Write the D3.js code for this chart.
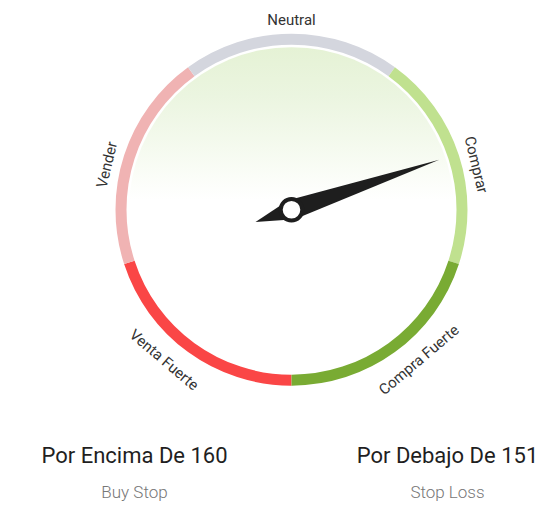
<!DOCTYPE html>
<html>
<head>
<meta charset="utf-8">
<script src="https://cdn.jsdelivr.net/npm/d3@7"></script>
<style>
  html, body { margin: 0; padding: 0; background: #fff; }
  svg { display: block; font-family: Roboto, "Noto Sans", sans-serif; }
</style>
</head>
<body>
<svg id="chart" width="542" height="529"></svg>
<script>
// ---- data ----
const segmentLabels = ["Venta Fuerte", "Vender", "Neutral", "Comprar", "Compra Fuerte"];
const segmentColors = ["#fa4646", "#f0b3b3", "#d4d6de", "#c0e18f", "#79ab33"];
const gaugeMin = 0;
const gaugeMax = 100;
const needleValue = 69.8;
const stopValues = ["Por Encima De 160", "Por Debajo De 151"];
const stopNames = ["Buy Stop", "Stop Loss"];

// ---- layout ----
const svg = d3.select("#chart");
const cx = 291.5, cy = 209.7;
const rOuter = 176, rInner = 165, rFill = 162.5;

// angle scale: start at 6 o'clock, clockwise full circle
const angle = d3.scaleLinear().domain([gaugeMin, gaugeMax]).range([Math.PI, 3 * Math.PI]);
const segScale = d3.scaleLinear().domain([0, segmentLabels.length]).range([gaugeMin, gaugeMax]);

const defs = svg.append("defs");
const grad = defs.append("linearGradient").attr("id", "bgGrad")
  .attr("x1", 0).attr("y1", 0).attr("x2", 0).attr("y2", 1);
[["0%", "#e5f2d5"], ["15%", "#ebf5e0"], ["28%", "#f3f9ec"], ["40%", "#fbfdf8"], ["47%", "#ffffff"], ["100%", "#ffffff"]]
  .forEach(([o, c]) => grad.append("stop").attr("offset", o).attr("stop-color", c));

const g = svg.append("g").attr("transform", `translate(${cx},${cy})`);

// inner gradient disc
g.append("circle").attr("r", rFill).attr("fill", "url(#bgGrad)");

// ring segments
const arc = d3.arc().innerRadius(rInner).outerRadius(rOuter);
g.selectAll("path.seg")
  .data(segmentLabels)
  .join("path")
  .attr("class", "seg")
  .attr("fill", (d, i) => segmentColors[i])
  .attr("d", (d, i) => arc({ startAngle: angle(segScale(i)), endAngle: angle(segScale(i + 1)) }));

// segment labels
const deg = a => a * 180 / Math.PI;
g.selectAll("text.seglabel")
  .data(segmentLabels)
  .join("text")
  .attr("class", "seglabel")
  .attr("text-anchor", "middle")
  .attr("dominant-baseline", "central")
  .attr("fill", "#333")
  .attr("font-size", 15)
  .text(d => d)
  .attr("transform", (d, i) => {
    let a = deg(angle(segScale(i + 0.5))) % 360;
    // nudge toward the horizontal axis
    const s = Math.sin(2 * a * Math.PI / 180);
    a += Math.abs(s) > 0.01 ? 4.3 * Math.sign(s) : 0;
    const bottom = a > 90 && a < 270;
    const r = bottom ? 197 : 190;
    const rad = a * Math.PI / 180;
    const x = r * Math.sin(rad), y = -r * Math.cos(rad);
    const rot = bottom ? a - 180 : (a > 180 ? a - 360 : a);
    return `translate(${x},${y}) rotate(${rot})`;
  });

// needle
const na = deg(angle(needleValue));
const needleLen = 156, tailLen = 38, halfW = 10;
const needlePts = [[0, -needleLen], [halfW, 0], [0, tailLen], [-halfW, 0]];
g.append("path")
  .attr("d", d3.line()(needlePts) + "Z")
  .attr("fill", "#1e1e1e")
  .attr("transform", `rotate(${na})`);
g.append("circle").attr("r", 10.8).attr("fill", "#fff")
  .attr("stroke", "#1e1e1e").attr("stroke-width", 4);

// bottom stop values
const colX = d3.scalePoint().domain(stopNames).range([134.5, 447.5]);
svg.selectAll("text.stopval")
  .data(stopValues)
  .join("text")
  .attr("class", "stopval")
  .attr("x", (d, i) => colX(stopNames[i]))
  .attr("y", 462.5)
  .attr("text-anchor", "middle")
  .attr("font-size", 22)
  .attr("fill", "#1f1f1f")
  .text(d => d);
svg.selectAll("text.stopname")
  .data(stopNames)
  .join("text")
  .attr("class", "stopname")
  .attr("x", d => colX(d))
  .attr("y", 498)
  .attr("text-anchor", "middle")
  .attr("font-size", 17)
  .attr("font-weight", 300)
  .attr("fill", "#777")
  .text(d => d);
</script>
</body>
</html>
